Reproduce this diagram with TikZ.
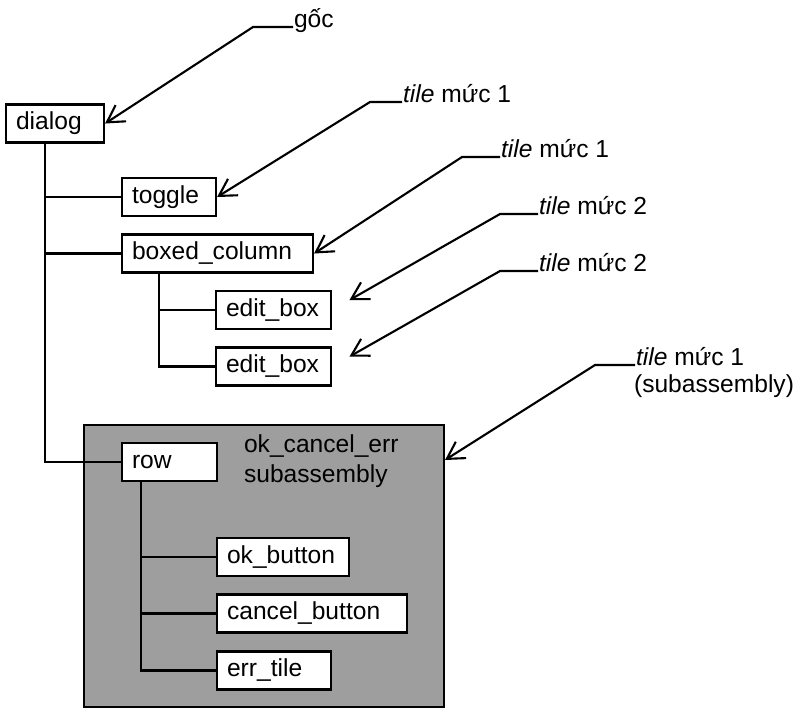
\documentclass[tikz,border=0pt]{standalone}
\usepackage{fontspec}
\setmainfont{Liberation Sans}
\usepackage{tikz}
\usetikzlibrary{arrows.meta}

\begin{document}
\begin{tikzpicture}[x=0.02cm,y=-0.02cm,line width=1.2pt,
        every node/.style={font=\fontsize{14}{17}\selectfont},
        tilebox/.style={draw, fill=white, anchor=west, minimum height=0.76cm,
            inner xsep=0.2cm, inner ysep=2pt, text width=#1, align=left},
        pointer/.style={-{Straight Barb[angle=60:11pt]}},
        lbl/.style={anchor=base west, inner sep=0pt}]
        \useasboundingbox (0,0) rectangle (800,708);
        % subassembly
        \node[draw, fill=black!38, anchor=north west, inner sep=0pt,
            minimum width=7.2cm, minimum height=5.64cm] (okcancel) at(83,424){};
        \node[anchor=north west, align=left, inner sep=0pt] (subtitle) at(243,434){ok\_cancel\_err\\subassembly};
        % tiles
        \node[tilebox=1.56cm] (dialog) at(5,123.5){dialog};
        \node[tilebox=1.48cm] (toggle) at(121,197){toggle};
        \node[tilebox=3.42cm] (boxed) at(121,253.5){boxed\_column};
        \node[tilebox=1.90cm] (edit1) at(215,310){edit\_box};
        \node[tilebox=1.90cm] (edit2) at(215,366.5){edit\_box};
        \node[tilebox=1.50cm] (row) at(121,462){row};
        \node[tilebox=2.24cm] (ok) at(216,557){ok\_button};
        \node[tilebox=3.40cm] (cancel) at(216,613.5){cancel\_button};
        \node[tilebox=1.88cm] (err) at(216,670.5){err\_tile};
        % tree lines
        \coordinate (trunk) at(45,0);
        \coordinate (bctrunk) at(159,0);
        \coordinate (rowtrunk) at(141,0);
        \draw (trunk |- dialog.south)--(trunk |- row.west)--(row.west);
        \draw (trunk |- toggle.west)--(toggle.west);
        \draw (trunk |- boxed.west)--(boxed.west);
        \draw (bctrunk |- boxed.south)--(bctrunk |- edit2.west)--(edit2.west);
        \draw (bctrunk |- edit1.west)--(edit1.west);
        \draw (rowtrunk |- row.south)--(rowtrunk |- err.west)--(err.west);
        \draw (rowtrunk |- ok.west)--(ok.west);
        \draw (rowtrunk |- cancel.west)--(cancel.west);
        % labels
        \node[lbl] (goc) at(293,27){gốc};
        \node[lbl] (lvla) at(402,102){\textit{tile} mức 1};
        \node[lbl] (lvlb) at(500,157){\textit{tile} mức 1};
        \node[lbl] (lvlc) at(538,214){\textit{tile} mức 2};
        \node[lbl] (lvld) at(538,271){\textit{tile} mức 2};
        \node[lbl] (lvle) at(635,365){\textit{tile} mức 1};
        \node[lbl] (lvlf) at(633,392){(subassembly)};
        % pointers
        \draw[pointer] (goc.base west)--++(-40,0)--(dialog.east);
        \draw[pointer] (lvla.base west)--++(-32,0)--(toggle.east);
        \draw[pointer] (lvlb.base west)--++(-38,0)--(boxed.east);
        \draw[pointer,shorten >=0.4cm] (lvlc.base west)--++(-38,0)--(edit1.east);
        \draw[pointer,shorten >=0.4cm] (lvld.base west)--++(-38,0)--(edit2.east);
        \draw[pointer] (lvle.base west)--++(-40,0)--([yshift=-0.72cm]okcancel.north east);
\end{tikzpicture}
\end{document}
